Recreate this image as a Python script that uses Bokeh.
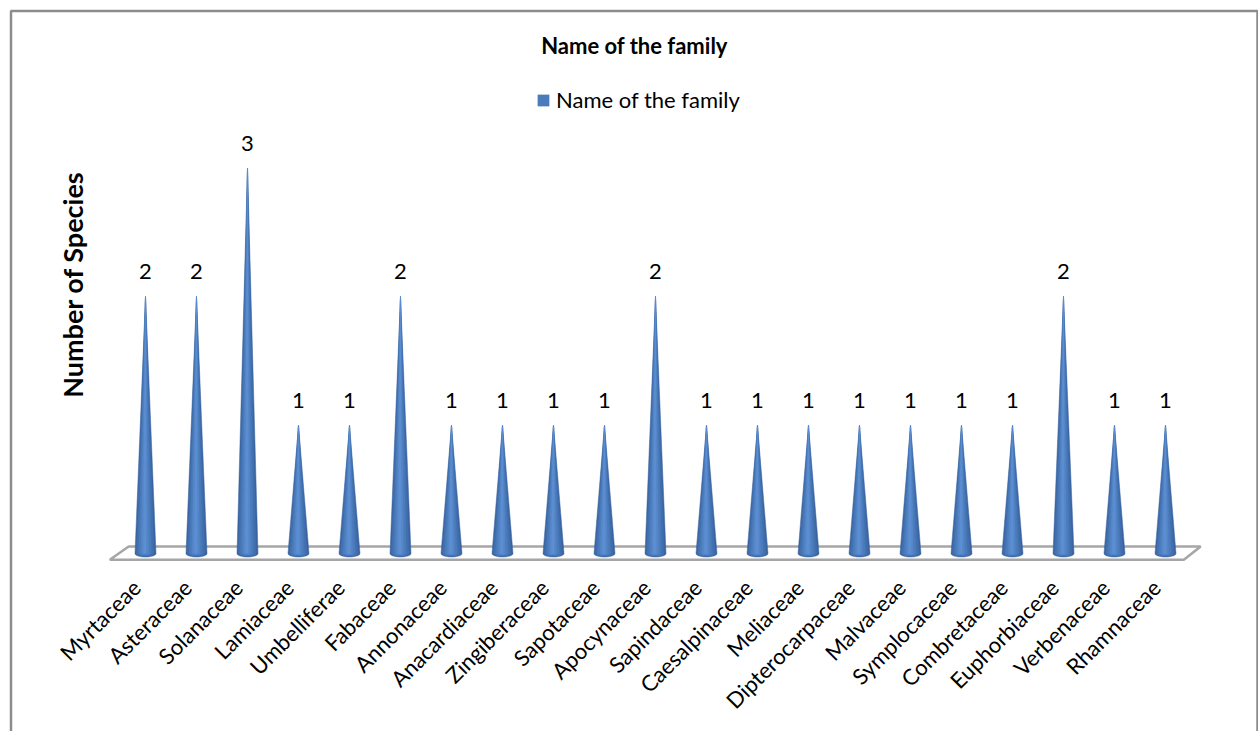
import numpy as np
from math import pi

from bokeh.plotting import figure
from bokeh.models import Range1d, LinearAxis, FixedTicker, Label, Legend, LegendItem
from bokeh.core.properties import value
from bokeh.embed import file_html
from bokeh.resources import INLINE

# --- data -------------------------------------------------------------------
families = ["Myrtaceae", "Asteraceae", "Solanaceae", "Lamiaceae", "Umbelliferae",
            "Fabaceae", "Annonaceae", "Anacardiaceae", "Zingiberaceae", "Sapotaceae",
            "Apocynaceae", "Sapindaceae", "Caesalpinaceae", "Meliaceae",
            "Dipterocarpaceae", "Malvaceae", "Symplocaceae", "Combretaceae",
            "Euphorbiaceae", "Verbenaceae", "Rhamnaceae"]
species = [2, 2, 3, 1, 1, 2, 1, 1, 1, 1, 2, 1, 1, 1, 1, 1, 1, 1, 2, 1, 1]
series_name = "Name of the family"
chart_title = "Name of the family"
y_title = "Number of Species"

# --- canvas geometry ----------------------------------------------------------
W, H = 1258, 731
X0_PX, DX_PX = 145.0, 51.0      # pixel of first category, pixels per category
Y0_PX, DY_PX = 553.0, 128.5     # pixel of zero, pixels per species
LABEL_SHIFT_PX = -9.0           # category labels sit a little left of the cone


def px2x(px):
    return (px - X0_PX) / DX_PX


def px2y(py):
    return (Y0_PX - py) / DY_PX


FONT = "Lato"
n = len(families)
idx = list(range(n))

p = figure(width=W, height=H, output_backend="svg", toolbar_location=None,
           x_range=Range1d(px2x(0), px2x(W)), y_range=Range1d(px2y(H), px2y(0)),
           x_axis_type=None, y_axis_type=None, min_border=0,
           background_fill_color="white", border_fill_color="white")
p.outline_line_color = None
p.grid.visible = False
p.extra_x_ranges = {"labels": Range1d(px2x(0 - LABEL_SHIFT_PX), px2x(W - LABEL_SHIFT_PX))}

# outer chart-area border (open at the bottom)
p.line(x=[px2x(10.5), px2x(10.5), px2x(1257), px2x(1257)],
       y=[px2y(H + 20), px2y(10.5), px2y(10.5), px2y(H + 20)],
       line_color="#8c8c8c", line_width=2.5)

# 3-D floor slab
fl, fr = -0.70, (n - 1) + 0.36
bl, br = -0.33, (n - 1) + 0.69
p.patch(x=[fl, bl, br, fr], y=[px2y(559.3), px2y(546), px2y(546), px2y(559.3)],
        fill_color="white", line_color="#a6a6a6", line_width=2.5)

# cones: layered patches give a cylindrical shading
half_w = 10.5 / DX_PX
half_h = 3.5 / DY_PX
layers = [  # (left fraction, right fraction, colour)
    (1.00, 1.00, "#3a64a0"),
    (0.85, 0.80, "#4270ae"),
    (0.65, 0.55, "#4b7bbb"),
    (0.42, 0.28, "#5586c8"),
    (0.20, 0.05, "#5c8fd2"),
]
t = np.linspace(0, pi, 24)
renderers = []
for lf, rf, col in layers:
    xs, ys = [], []
    for i, v in zip(idx, species):
        wl, wr = lf * half_w, rf * half_w
        a = (wl + wr) / 2
        c = i + (wr - wl) / 2
        b = half_h * a / half_w
        arc_x = c + a * np.cos(t)
        arc_y = -b * np.sin(t)
        xs.append([i] + list(arc_x))
        ys.append([v] + list(arc_y))
    r = p.patches(xs=xs, ys=ys, fill_color=col, line_color=col, line_width=0.5)
    renderers.append(r)

# value labels above each cone
p.text(x=idx, y=species, text=[str(v) for v in species], y_offset=-25,
       text_align="center", text_baseline="middle", text_color="black",
       text_font=value(FONT), text_font_size="22px")

# category axis, placed on the floor
xaxis = LinearAxis(ticker=FixedTicker(ticks=idx), x_range_name="labels",
                   major_label_overrides={i: f for i, f in zip(idx, families)},
                   major_label_orientation=pi / 4,
                   fixed_location=px2y(583))
xaxis.axis_line_color = None
xaxis.major_tick_line_color = None
xaxis.minor_tick_line_color = None
xaxis.major_tick_out = 0
xaxis.major_label_standoff = 0
xaxis.major_label_text_font = FONT
xaxis.major_label_text_font_size = "22px"
xaxis.major_label_text_color = "black"
p.add_layout(xaxis, "below")

# titles
p.add_layout(Label(x=634, y=H - 45, x_units="screen", y_units="screen",
                   text=chart_title, text_align="center", text_baseline="middle",
                   text_font=FONT, text_font_style="bold", text_font_size="22px",
                   text_color="black"))
p.add_layout(Label(x=72, y=H - 284, x_units="screen", y_units="screen",
                   text=y_title, angle=pi / 2, text_align="center",
                   text_baseline="middle", text_font=FONT, text_font_style="bold",
                   text_font_size="27px", text_color="black"))

legend = Legend(items=[LegendItem(label=series_name, renderers=[renderers[2]])],
                location=(536, H - 113), orientation="horizontal",
                glyph_width=14, glyph_height=14, label_standoff=6,
                padding=0, margin=0, border_line_color=None,
                background_fill_alpha=0, label_text_font=FONT,
                label_text_font_size="22px", label_text_color="black")
p.add_layout(legend)

open("out.html", "w").write(file_html(p, INLINE))
